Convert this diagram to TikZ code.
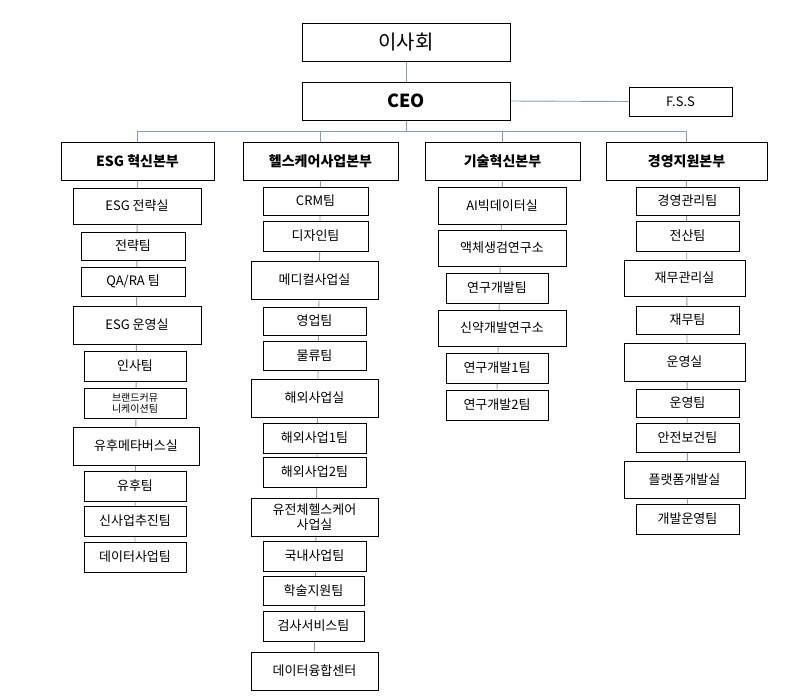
\documentclass[tikz,border=0pt]{standalone}
\usepackage{fontspec}
\setmainfont{Noto Sans CJK KR}
\usetikzlibrary{backgrounds}
\definecolor{ln}{HTML}{7F9FC0}
\newcommand\bx[7][]{\node[box,#1,minimum width={(#4-#2)*1pt},minimum height={(#5-#3)*1pt}] (#7) at ({(#2+#4)/2},{(#3+#5)/2}) {#6};}
\begin{document}
\begin{tikzpicture}[x=1pt,y=-1pt,
  box/.style={draw=black,line width=0.9pt,fill=white,inner sep=0pt,align=center,font=\fontsize{13}{14}\selectfont},
  con/.style={draw=ln,line width=0.9pt}]
\useasboundingbox (0,0) rectangle (805,697);
\bx[font=\fontsize{20}{22}\selectfont]{302}{23}{510}{61}{이사회}{bod}
\bx[font=\fontsize{18}{20}\selectfont\bfseries]{302}{82}{510}{120}{CEO}{ceo}
\bx{629}{87}{732}{116}{F.S.S}{fss}
\bx[font=\fontsize{14}{16}\selectfont\bfseries]{61}{142}{214}{180}{ESG 혁신본부}{h1}
\bx[font=\fontsize{14}{16}\selectfont\bfseries]{243}{142}{398}{180}{헬스케어사업본부}{h2}
\bx[font=\fontsize{14}{16}\selectfont\bfseries]{425}{142}{580}{180}{기술혁신본부}{h3}
\bx[font=\fontsize{14}{16}\selectfont\bfseries]{606}{142}{767}{180}{경영지원본부}{h4}
% column 1
\bx{73}{188}{201}{224}{ESG 전략실}{a1}
\bx{81}{232}{185}{260}{전략팀}{a2}
\bx{81}{267}{185}{296}{QA/RA 팀}{a3}
\bx{73}{306}{201}{344}{ESG 운영실}{a4}
\bx{84}{351}{186}{381}{인사팀}{a5}
\bx[font=\fontsize{10}{11}\selectfont]{84}{388}{186}{418}{브랜드커뮤\\니케이션팀}{a6}
\bx{73}{427}{199}{465}{유후메타버스실}{a7}
\bx{84}{471}{186}{501}{유후팀}{a8}
\bx{84}{506}{186}{536}{신사업추진팀}{a9}
\bx{84}{542}{186}{572}{데이터사업팀}{a10}
% column 2
\bx{263}{187}{368}{215}{CRM팀}{b1}
\bx{263}{221}{368}{251}{디자인팀}{b2}
\bx{251}{261}{378}{299}{메디컬사업실}{b3}
\bx{263}{307}{366}{335}{영업팀}{b4}
\bx{263}{341}{366}{370}{물류팀}{b5}
\bx{251}{379}{378}{417}{해외사업실}{b6}
\bx{263}{423}{366}{453}{해외사업1팀}{b7}
\bx{263}{457}{366}{487}{해외사업2팀}{b8}
\bx[font=\fontsize{13}{15}\selectfont]{251}{498}{378}{536}{유전체헬스케어\\사업실}{b9}
\bx{263}{541}{366}{571}{국내사업팀}{b10}
\bx{263}{576}{364}{605}{학술지원팀}{b11}
\bx{263}{611}{364}{641}{검사서비스팀}{b12}
\bx{251}{652}{378}{690}{데이터융합센터}{b13}
% column 3
\bx{438}{187}{566}{224}{AI빅데이터실}{c1}
\bx{438}{230}{566}{266}{액체생검연구소}{c2}
\bx{446}{273}{548}{303}{연구개발팀}{c3}
\bx{438}{310}{566}{346}{신약개발연구소}{c4}
\bx{446}{353}{548}{383}{연구개발1팀}{c5}
\bx{446}{390}{548}{420}{연구개발2팀}{c6}
% column 4
\bx{636}{187}{739}{215}{경영관리팀}{d1}
\bx{636}{221}{739}{251}{전산팀}{d2}
\bx{624}{260}{745}{296}{재무관리실}{d3}
\bx{636}{306}{739}{334}{재무팀}{d4}
\bx{624}{343}{745}{381}{운영실}{d5}
\bx{636}{389}{739}{417}{운영팀}{d6}
\bx{636}{423}{739}{452}{안전보건팀}{d7}
\bx{624}{461}{745}{498}{플랫폼개발실}{d8}
\bx{636}{504}{739}{534}{개발운영팀}{d9}
\begin{scope}[on background layer]
\draw[con] (bod.south) -- (ceo.north);
\draw[con] (ceo.east) -- (fss.west);
\coordinate (bus) at (0,131);
\draw[con] (ceo.south) -- (ceo.south |- bus);
\draw[con] (h1.north) -- (h1.north |- bus) -- (h4.north |- bus) -- (h4.north);
\draw[con] (h2.north) -- (h2.north |- bus);
\draw[con] (h3.north) -- (h3.north |- bus);
\draw[con] (h1.south) -- (a10.north);
\draw[con] (h2.south) -- (b13.north);
\draw[con] (h3.south) -- (c6.north);
\draw[con] (h4.south) -- (d9.north);
\end{scope}
\end{tikzpicture}
\end{document}
